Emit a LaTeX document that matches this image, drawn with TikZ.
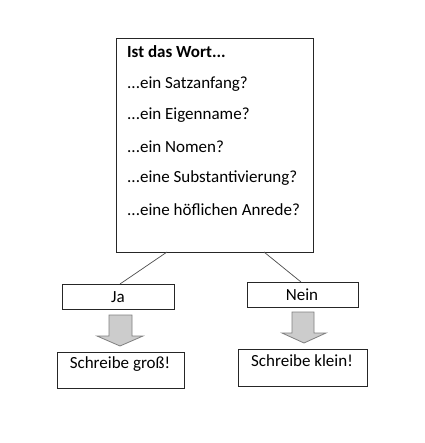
\documentclass[tikz,border=0pt]{standalone}
\usepackage{fontspec}
\setmainfont{Carlito}
\begin{document}
\begin{tikzpicture}[x=1pt,y=-1pt,
  box/.style={draw=black!85,line width=1pt,fill=white},
  link/.style={draw=black!70,line width=0.7pt},
  txt/.style={inner sep=0pt,anchor=west,font=\fontsize{17}{19}\selectfont},
  ctxt/.style={inner sep=0pt,anchor=center,font=\fontsize{17}{19}\selectfont},
  bigarrow/.style={draw=black!50,fill=black!20,line width=0.8pt,line join=miter}]
\useasboundingbox (0,0) rectangle (424,443);
\fill[white] (0,0) rectangle (424,443);
% main box
\draw[box] (116,39) rectangle (313,252);
\node[coordinate] (mainL) at (167,252) {};
\node[coordinate] (mainR) at (264,252) {};
\node[txt,font=\bfseries\fontsize{17}{19}\selectfont] (t0) at (127,52) {Ist das Wort...};
\node[txt] (t1) at (127,84) {...ein Satzanfang?};
\node[txt] (t2) at (127,115) {...ein Eigenname?};
\node[txt] (t3) at (127,147) {...ein Nomen?};
\node[txt] (t4) at (127,178) {...eine Substantivierung?};
\node[txt] (t5) at (127,210) {...eine höflichen Anrede?};
% Ja / Nein
\draw[box] (62,284) rectangle (174,309);
\node[coordinate] (jaTop) at (120,284) {};
\node[ctxt] (ja) at (118,297) {Ja};
\draw[box] (247,282) rectangle (358,307);
\node[coordinate] (neinTop) at (301,282) {};
\node[ctxt] (nein) at (302,295) {Nein};
\draw[link] (mainL) -- (jaTop);
\draw[link] (mainR) -- (neinTop);
% arrows
\draw[bigarrow] (109,315) -- (132,315) -- (132,336) -- (143,336) -- (120,346) -- (97,336) -- (109,336) -- cycle;
\draw[bigarrow] (292,312) -- (314,312) -- (314,333) -- (326,333) -- (304,343) -- (282,333) -- (292,333) -- cycle;
% result boxes
\draw[box] (57,352) rectangle (184,388);
\node[ctxt] (gross) at (120,364) {Schreibe groß!};
\draw[box] (238,349) rectangle (367,386);
\node[ctxt] (klein) at (302,361) {Schreibe klein!};
\end{tikzpicture}
\end{document}
